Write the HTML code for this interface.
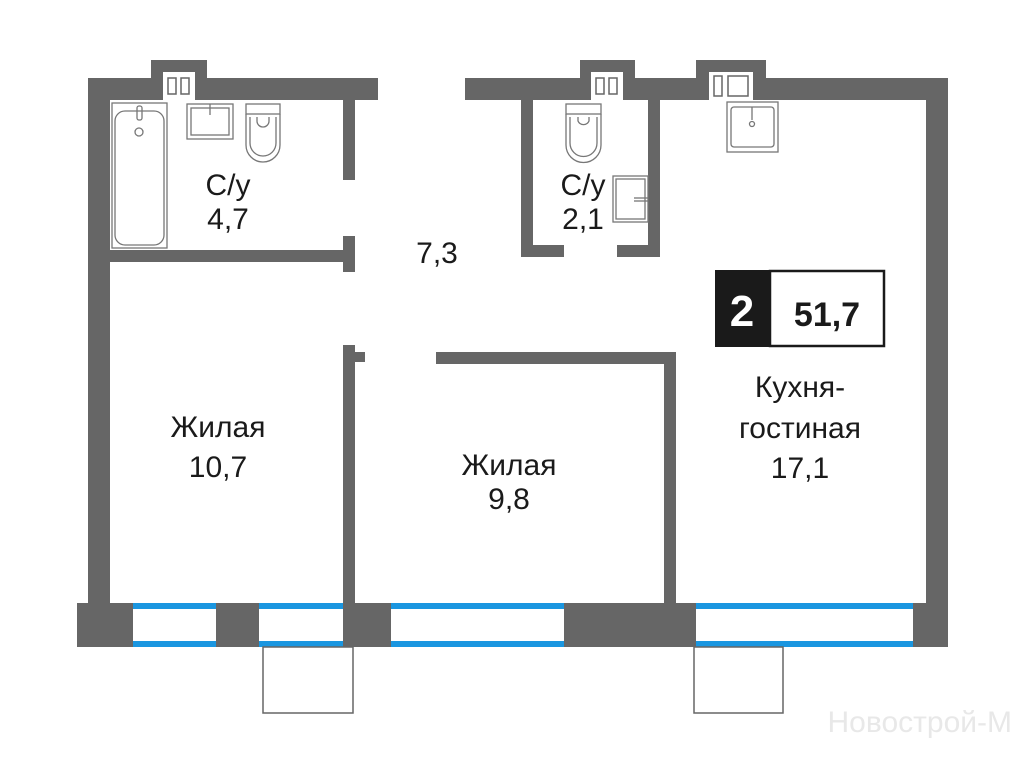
<!DOCTYPE html>
<html><head><meta charset="utf-8"><style>
html,body{margin:0;padding:0;background:#fff;width:1024px;height:768px;overflow:hidden}
</style></head><body>
<svg width="1024" height="768" viewBox="0 0 1024 768" xmlns="http://www.w3.org/2000/svg" font-family="Liberation Sans, DejaVu Sans, sans-serif">
<g fill="#666">
<rect x="88" y="78" width="290" height="22"/>
<rect x="151" y="60" width="56" height="40"/>
<rect x="88" y="78" width="22" height="530"/>
<rect x="343" y="100" width="12" height="80"/>
<rect x="110" y="250" width="245" height="12"/>
<rect x="343" y="236" width="12" height="36"/>
<rect x="465" y="78" width="483" height="22"/>
<rect x="580" y="60" width="55" height="40"/>
<rect x="696" y="60" width="70" height="40"/>
<rect x="926" y="78" width="22" height="530"/>
<rect x="521" y="100" width="12" height="157"/>
<rect x="648" y="100" width="12" height="157"/>
<rect x="521" y="245" width="43" height="12"/>
<rect x="617" y="245" width="43" height="12"/>
<rect x="343" y="345" width="12" height="262"/>
<rect x="355" y="352" width="10" height="10"/>
<rect x="436" y="352" width="240" height="12"/>
<rect x="664" y="352" width="12" height="255"/>
<rect x="77" y="603" width="56" height="44"/>
<rect x="216" y="603" width="43" height="44"/>
<rect x="343" y="603" width="48" height="44"/>
<rect x="564" y="603" width="132" height="44"/>
<rect x="913" y="603" width="35" height="44"/>
</g>
<g fill="#1a96e0">
<rect x="133" y="603" width="83" height="6"/><rect x="133" y="641" width="83" height="6"/>
<rect x="259" y="603" width="84" height="6"/><rect x="259" y="641" width="84" height="6"/>
<rect x="391" y="603" width="173" height="6"/><rect x="391" y="641" width="173" height="6"/>
<rect x="696" y="603" width="217" height="6"/><rect x="696" y="641" width="217" height="6"/>
</g>
<g fill="none" stroke="#666" stroke-width="1.5">
<rect x="263" y="647" width="90" height="66"/>
<rect x="694" y="647" width="89" height="66"/>
</g>
<g fill="#fff" stroke="#666" stroke-width="1.5">
<rect x="163" y="72" width="32" height="28" stroke="none"/>
<rect x="168" y="78" width="8" height="16"/><rect x="181" y="78" width="8" height="16"/>
<rect x="591" y="72" width="32" height="28" stroke="none"/>
<rect x="596" y="78" width="8" height="16"/><rect x="609" y="78" width="8" height="16"/>
<rect x="709" y="72" width="44" height="28" stroke="none"/>
<rect x="714" y="76" width="8" height="20"/><rect x="728" y="76" width="20" height="20"/>
</g>
<g fill="none" stroke="#777" stroke-width="1.3">
<rect x="112" y="103" width="55" height="145"/>
<rect x="115" y="111" width="49" height="134" rx="10"/>
<rect x="137" y="106" width="5" height="14" rx="2"/><circle cx="139" cy="132" r="4"/>
<rect x="187" y="104" width="46" height="35"/><rect x="191" y="108" width="38" height="27"/>
<line x1="210" y1="104" x2="210" y2="115"/>
<rect x="246" y="104" width="34" height="10"/>
<path d="M246 114 V145 a17 17 0 0 0 34 0 V114"/><path d="M250 117 V143 a13 13 0 0 0 26 0 V117"/>
<path d="M257 117 v4 a6 6 0 0 0 12 0 v-4"/>
<rect x="566" y="104" width="35" height="10"/>
<path d="M566 114 V145 a17 17 0 0 0 35 0 V114"/><path d="M570 117 V143 a13 13 0 0 0 27 0 V117"/>
<path d="M578 117 v4 a6 6 0 0 0 11 0 v-4"/>
<rect x="613" y="176" width="35" height="46"/><rect x="616" y="179" width="29" height="40"/>
<line x1="634" y1="198" x2="648" y2="198"/><line x1="634" y1="201" x2="648" y2="201"/>
<rect x="727" y="102" width="51" height="50"/><rect x="731" y="107" width="43" height="40" rx="3"/>
<line x1="752" y1="107" x2="752" y2="120"/><circle cx="752" cy="124" r="2.5"/>
</g>
<rect x="715" y="270" width="55" height="77" fill="#1a1a1a"/>
<rect x="770" y="271" width="114" height="75" fill="#fff" stroke="#1a1a1a" stroke-width="2.5"/>
<text x="742" y="326" font-size="44" font-weight="bold" fill="#fff" text-anchor="middle">2</text>
<text x="827" y="326" font-size="34" font-weight="bold" fill="#1a1a1a" text-anchor="middle">51,7</text>
<g font-size="30" fill="#1a1a1a" text-anchor="middle">
<text x="228" y="195">С/у</text><text x="228" y="229">4,7</text>
<text x="583" y="195">С/у</text><text x="583" y="229">2,1</text>
<text x="437" y="263">7,3</text>
<text x="218" y="437">Жилая</text><text x="218" y="477">10,7</text>
<text x="509" y="475">Жилая</text><text x="509" y="509">9,8</text>
<text x="800" y="397">Кухня-</text><text x="800" y="438">гостиная</text><text x="800" y="478">17,1</text>
</g>
<text x="1012" y="732" font-size="30" fill="#e8e8e8" text-anchor="end">Новострой-М</text>
</svg>
</body></html>
